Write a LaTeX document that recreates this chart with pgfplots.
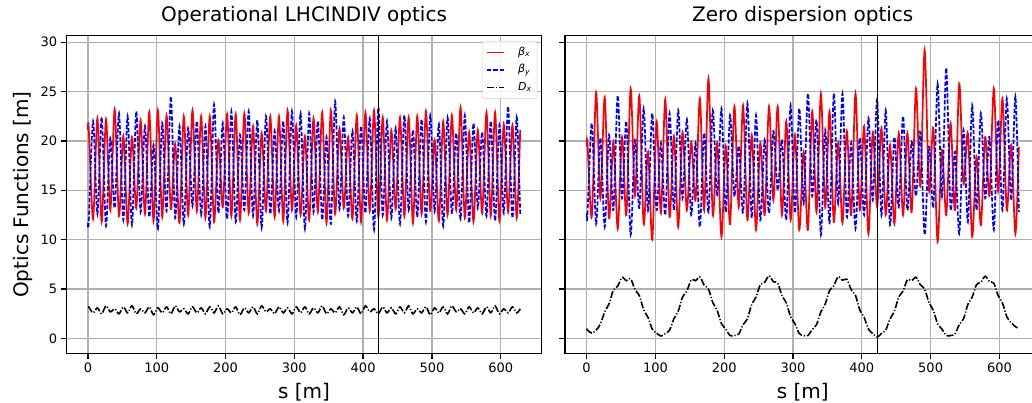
\documentclass[border=0pt]{standalone}
\usepackage{fontspec}
\setmainfont{DejaVu Sans}
\usepackage{pgfplots}
\usepackage{pgfplotstable}
\pgfplotsset{compat=1.18}
\definecolor{gridc}{HTML}{B0B0B0}
\definecolor{legc}{HTML}{CCCCCC}

\pgfplotstableread{
s bx by dx
0 21.1 11.7 3.2
1.2 21.3 11.8 3.2
7.5 12.1 22.0 2.6
13.8 22.3 12.6 3.1
20.0 11.8 22.4 2.5
26.3 22.2 11.4 3.3
32.6 13.0 20.3 2.7
38.9 23.2 13.2 3.0
45.2 12.4 22.8 2.5
51.5 20.5 12.0 3.2
57.7 11.6 22.5 2.6
64.0 20.4 11.5 3.3
70.3 13.2 23.0 2.5
76.6 22.1 12.8 3.0
82.9 12.6 21.5 2.6
89.2 22.9 12.3 3.2
95.4 11.9 19.6 2.4
101.7 23.1 11.1 3.1
108.0 12.3 21.8 2.6
114.3 22.6 12.9 3.2
120.6 13.1 24.5 2.5
126.9 19.7 12.2 3.3
133.1 11.7 21.5 2.7
139.4 22.5 11.6 3.0
145.7 12.5 21.3 2.5
152.0 23.1 13.4 3.2
158.3 12.9 22.0 2.6
164.6 22.5 12.5 3.1
170.8 12.2 21.5 2.5
177.1 22.5 11.3 3.2
183.4 11.8 23.7 2.6
189.7 20.1 12.7 3.3
196.0 13.3 21.8 2.5
202.3 22.7 12.1 3.0
208.5 12.4 23.0 2.6
214.8 22.7 11.8 3.2
221.1 12.0 20.6 2.4
227.4 22.8 13.0 3.1
233.7 12.7 23.0 2.6
240.0 21.5 12.4 3.2
246.2 11.6 22.1 2.5
252.5 20.8 11.2 3.3
258.8 12.9 22.5 2.7
265.1 22.5 12.6 3.0
271.4 12.3 21.0 2.5
277.7 22.5 12.9 3.2
283.9 11.9 22.0 2.6
290.2 23.1 11.7 3.1
296.5 13.0 23.0 2.5
302.8 21.6 12.3 3.2
309.1 12.5 22.8 2.6
315.4 20.5 11.1 3.2
321.6 12.0 22.8 2.5
327.9 22.3 12.8 3.1
334.2 12.8 22.0 2.6
340.5 22.9 12.0 3.3
346.8 11.7 20.4 2.5
353.1 23.1 11.6 3.0
359.3 12.6 24.0 2.6
365.6 21.3 13.1 3.2
371.9 13.2 22.4 2.4
378.2 20.4 12.4 3.1
384.5 12.1 21.0 2.6
390.8 22.6 11.9 3.2
397.0 11.8 21.5 2.5
403.3 22.9 12.7 3.3
409.6 12.9 22.3 2.7
415.9 23.1 11.0 3.0
422.2 12.3 23.4 2.5
428.5 22.4 12.5 3.2
434.7 12.0 22.0 2.6
441.0 21.1 12.2 3.1
447.3 13.1 21.3 2.5
453.6 22.4 11.6 3.2
459.9 12.4 22.6 2.6
466.2 22.4 13.0 3.3
472.4 11.7 21.1 2.5
478.7 22.5 12.3 3.0
485.0 12.6 22.2 2.6
491.3 23.0 11.8 3.2
497.6 12.9 22.6 2.4
503.9 20.1 12.9 3.1
510.1 11.9 21.7 2.6
516.4 22.0 11.4 3.2
522.7 12.5 22.4 2.5
529.0 22.6 12.6 3.3
535.3 13.0 20.8 2.7
541.6 23.4 12.1 3.0
547.8 12.2 22.6 2.5
554.1 20.9 11.7 3.2
560.4 11.8 21.8 2.6
566.7 21.1 13.2 3.1
573.0 12.7 20.9 2.5
579.3 22.9 12.4 3.2
585.5 12.4 22.0 2.6
591.8 22.9 11.9 3.3
598.1 11.9 21.6 2.5
604.4 21.7 12.7 3.0
610.7 12.8 23.5 2.6
617.0 21.6 12.2 3.2
623.2 12.2 22.4 2.6
628.3 21.1 12.5 3.0
}\leftdata

\pgfplotstableread{
s bx by dx
0 19.4 12.7 1.0
1.2 19.8 12.5 0.85
7.5 12.3 21.8 0.55
13.8 24.9 11.6 0.85
20.0 14.2 20.3 1.45
26.3 24.4 11.3 2.7
32.6 12.2 20.6 3.5
38.9 19.9 13.0 4.9
45.2 11.1 24.6 5.3
51.5 20.4 14.2 6.2
57.7 12.5 22.0 5.85
64.0 25.3 10.5 6.05
70.3 14.5 20.1 4.95
76.6 24.6 13.2 4.35
82.9 11.6 23.3 2.9
89.2 18.9 13.0 2.15
95.4 10.0 22.8 0.95
101.7 22.0 13.0 0.55
108.0 12.7 19.8 0.25
114.3 24.2 12.5 0.5
120.6 12.3 22.8 0.85
126.9 20.5 13.0 2.0
133.1 11.3 23.1 2.75
139.4 20.9 14.2 4.2
145.7 13.0 22.2 4.8
152.0 19.9 12.5 5.95
158.3 14.0 19.8 5.85
164.6 24.3 11.3 6.25
170.8 13.0 20.8 5.4
177.1 26.3 12.8 5.0
183.4 12.5 23.1 3.65
189.7 19.8 14.4 2.85
196.0 10.3 23.3 1.5
202.3 19.5 12.8 0.95
208.5 11.6 22.6 0.3
214.8 23.5 14.4 0.3
221.1 13.3 19.5 0.45
227.4 23.6 12.8 1.4
233.7 12.0 23.8 2.0
240.0 20.6 12.2 3.45
246.2 11.0 22.6 4.2
252.5 19.8 12.0 5.45
258.8 12.5 20.1 5.7
265.1 23.5 12.7 6.35
271.4 14.0 21.0 5.75
277.7 23.5 15.0 5.6
283.9 12.5 20.1 4.35
290.2 22.0 12.0 3.6
296.5 12.0 23.6 2.2
302.8 20.6 12.7 1.5
309.1 11.0 23.3 0.5
315.4 18.9 13.7 0.3
321.6 11.0 24.8 0.3
327.9 23.0 14.4 0.9
334.2 12.8 22.1 1.4
340.5 24.8 10.5 2.7
346.8 13.3 21.1 3.5
353.1 23.0 11.7 4.85
359.3 11.8 24.8 5.35
365.6 19.8 13.7 6.25
371.9 11.7 24.8 5.9
378.2 21.0 12.3 6.0
384.5 12.5 19.8 4.95
390.8 24.8 11.1 4.35
397.0 13.0 20.3 2.9
403.3 21.5 12.5 2.15
409.6 10.6 22.3 0.95
415.9 20.9 14.0 0.5
422.2 13.3 24.2 0.15
428.5 21.3 12.5 0.5
434.7 12.5 23.1 0.85
441.0 19.6 11.5 2.0
447.3 11.6 20.4 2.75
453.6 20.8 13.3 4.2
459.9 12.5 22.5 4.8
466.2 20.8 13.0 5.95
472.4 12.8 19.9 5.85
478.7 25.3 14.4 6.2
485.0 15.4 20.9 5.45
491.3 29.2 10.5 5.0
497.6 15.0 19.4 3.65
503.9 21.3 13.3 2.85
510.1 9.8 25.8 1.5
516.4 19.1 14.4 0.95
522.7 12.5 27.4 0.3
529.0 21.8 13.1 0.3
535.3 13.0 18.9 0.45
541.6 25.8 10.6 1.4
547.8 15.7 21.1 2.0
554.1 20.8 11.8 3.45
560.4 10.3 23.6 4.2
566.7 18.4 13.0 5.45
573.0 11.5 22.8 5.7
579.3 20.4 14.2 6.3
585.5 14.5 20.4 5.75
591.8 25.3 11.0 5.6
598.1 14.9 22.1 4.35
604.4 24.3 13.0 3.6
610.7 13.0 24.3 2.2
617.0 19.6 14.0 1.6
623.2 10.6 24.5 1.2
628.3 19.4 12.8 1.0
}\rightdata

\pgfplotsset{
  opt/.style={
    scale only axis, width=475.5pt, height=317.6pt,
    xmin=-31.4, xmax=659.7, ymin=-1.5, ymax=30.66,
    xtick={0,100,200,300,400,500,600},
    ytick={0,5,10,15,20,25,30},
    grid=major,
    major grid style={gridc, line width=1.3pt},
    axis line style={black, line width=1.3pt},
    tick align=outside, tick pos=left,
    major tick length=5.6pt,
    every tick/.style={black, line width=1.3pt},
    tick label style={font=\fontsize{13}{13}\selectfont},
    /pgf/number format/assume math mode=true,
    title style={font=\fontsize{20}{20}\selectfont, at={(axis description cs:0.5,1)}, anchor=base, yshift=8.4pt},
    xlabel={s [m]},
    xlabel style={font=\fontsize{20}{20}\selectfont, at={(axis description cs:0.5,0)}, anchor=base, yshift=-44.7pt},
    no marks,
  },
  linebx/.style={color=red, line width=1.7pt, smooth},
  lineby/.style={color=blue, line width=1.7pt, dash pattern=on 4.3pt off 1.9pt, smooth},
  linedx/.style={color=black, line width=1.6pt, dash pattern=on 7pt off 1.9pt on 1.2pt off 1.9pt, smooth},
}

\begin{document}
\begin{tikzpicture}
\path[use as bounding box] (0pt,0pt) rectangle (1032pt,402pt);
\clip (0pt,0pt) rectangle (1032pt,402pt);

\begin{axis}[opt, at={(66.3pt,48.7pt)}, anchor=south west,
  title={Operational LHCINDIV optics},
  ylabel={Optics Functions [m]},
  ylabel style={font=\fontsize{20}{20}\selectfont, at={(axis description cs:-0.0799,0.5)}, anchor=base},
  legend style={at={(axis description cs:1,1)}, anchor=north east, xshift=-4.5pt, yshift=-5.3pt,
    draw=legc, rounded corners=2.5pt, fill=white, fill opacity=0.8, text opacity=1,
    font=\fontsize{11}{11}\selectfont, inner sep=4pt, row sep=3pt,
    nodes={inner sep=1.5pt, text height=8.5pt, text depth=3pt},
    /tikz/every odd column/.append style={column sep=12pt}},
  legend cell align=left,
  every legend image post/.style={line width=1.7pt},
]
\addplot[linebx, legend image code/.code={\draw[color=red, line width=1.7pt] (0pt,0pt) -- (16.6pt,0pt);}] table[x=s,y=bx]{\leftdata};
\addlegendentry{{\itshape β}\textsubscript{\itshape x}}
\addplot[lineby, legend image code/.code={\draw[color=blue, line width=1.7pt, dash pattern=on 4.3pt off 1.9pt] (0pt,0pt) -- (16.6pt,0pt);}] table[x=s,y=by]{\leftdata};
\addlegendentry{{\itshape β}\textsubscript{\itshape y}}
\addplot[linedx, legend image code/.code={\draw[color=black, line width=1.7pt, dash pattern=on 7pt off 1.9pt on 1.2pt off 1.9pt] (0pt,0pt) -- (16.6pt,0pt);}] table[x=s,y=dx]{\leftdata};
\addlegendentry{{\itshape D}\textsubscript{\itshape x}}
\addplot[black, line width=1.5pt, forget plot] coordinates {(422.6,-1.5) (422.6,30.66)};
\end{axis}

\begin{axis}[opt, at={(565pt,48.7pt)}, anchor=south west,
  title={Zero dispersion optics},
  yticklabels={},
]
\addplot[linebx] table[x=s,y=bx]{\rightdata};
\addplot[lineby] table[x=s,y=by]{\rightdata};
\addplot[linedx] table[x=s,y=dx]{\rightdata};
\addplot[black, line width=1.5pt, forget plot] coordinates {(422.6,-1.5) (422.6,30.66)};
\end{axis}
\end{tikzpicture}
\end{document}
